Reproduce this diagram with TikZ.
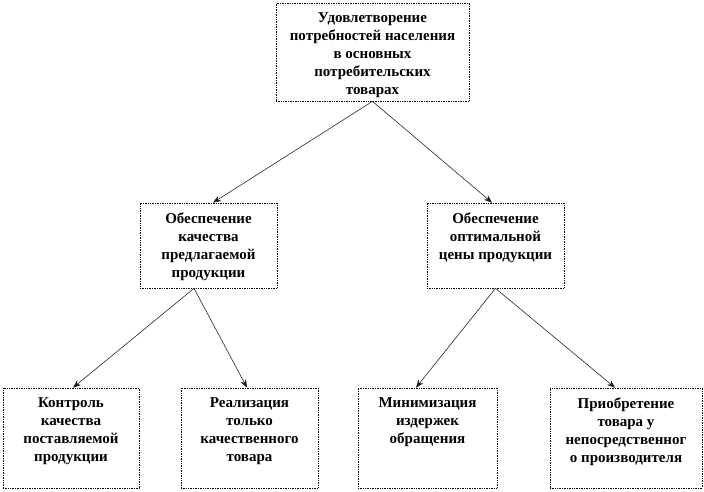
\documentclass[tikz,border=0pt]{standalone}
\usepackage{fontspec}
\setmainfont{Liberation Serif}
\usetikzlibrary{arrows.meta}
\newcommand{\boxtxt}[3]{\parbox[c][#2][t]{#1}{\vspace*{9.5pt}\centering #3\par}}

\begin{document}
\begin{tikzpicture}[x=1pt, y=-1pt, >={Stealth[length=8pt,width=6pt]}]
        \tikzstyle{every node}=[font=\fontsize{15}{18}\selectfont\bfseries]
        \tikzstyle{block}=[draw=black, densely dotted, line width=0.7pt, inner sep=0pt]
        \tikzstyle{link}=[->, draw=black!90, line width=0.55pt]
        \useasboundingbox (0,0) rectangle (704,491);
        \node [block] (top) at (372.5, 52) {\boxtxt{193pt}{98pt}{Удовлетворение\\ потребностей населения\\ в основных\\ потребительских\\ товарах}};
        \node [block] (ml) at (208.5, 245.5) {\boxtxt{137pt}{85pt}{Обеспечение\\ качества\\ предлагаемой\\ продукции}};
        \node [block] (mr) at (495.5, 245.5) {\boxtxt{137pt}{85pt}{Обеспечение\\ оптимальной\\ цены продукции}};
        \node [block] (b1) at (71, 438) {\boxtxt{136pt}{100pt}{Контроль\\ качества\\ поставляемой\\ продукции}};
        \node [block] (b2) at (249.5, 438) {\boxtxt{137pt}{100pt}{Реализация\\ только\\ качественного\\ товара}};
        \node [block] (b3) at (427.5, 438) {\boxtxt{139pt}{100pt}{Минимизация\\ издержек\\ обращения}};
        \node [block] (b4) at (626, 438) {\boxtxt{152pt}{100pt}{Приобретение\\ товара у\\ непосредственног\\ о производителя}};
        \draw [link] (top.south) -- ([xshift=4.5pt]ml.north);
        \draw [link] (top.south) -- ([xshift=-3.5pt]mr.north);
        \draw [link] ([xshift=-14.5pt]ml.south) -- ([xshift=2pt]b1.north);
        \draw [link] ([xshift=-14.5pt]ml.south) -- ([xshift=-2.5pt]b2.north);
        \draw [link] (mr.south) -- ([xshift=-11.5pt]b3.north);
        \draw [link] (mr.south) -- ([xshift=-11pt]b4.north);
      \end{tikzpicture}
\end{document}
